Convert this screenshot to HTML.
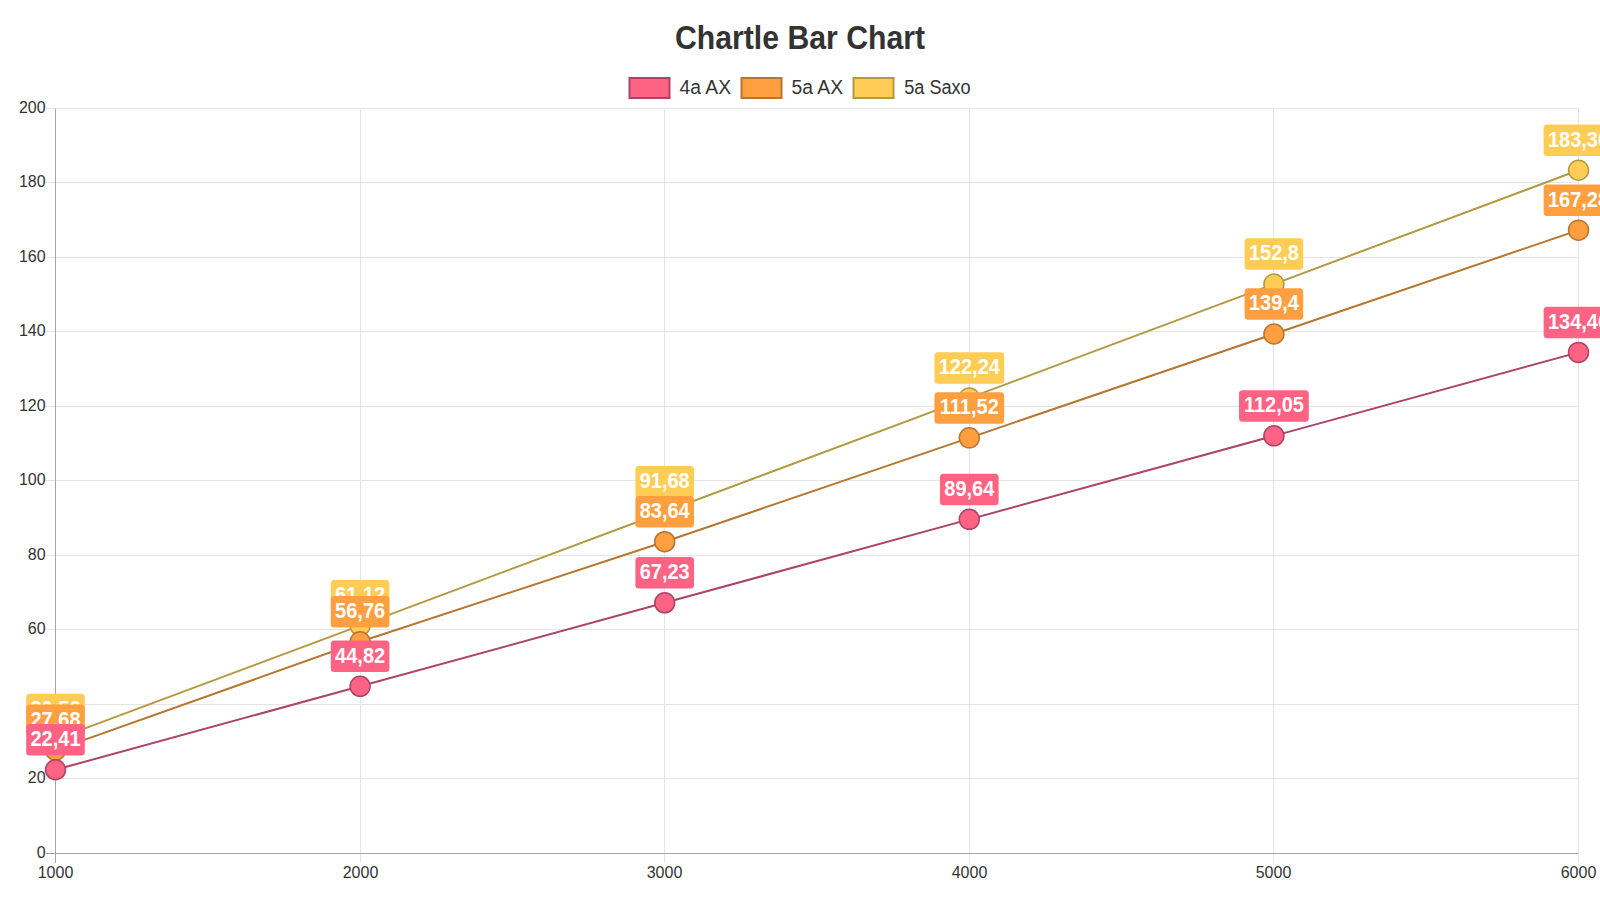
<!DOCTYPE html>
<html><head><meta charset="utf-8"><style>
html,body{margin:0;padding:0;background:#fff;width:1600px;height:900px;overflow:hidden;position:relative}
</style></head><body>
<svg width="1600" height="900" viewBox="0 0 1600 900" style="position:absolute;left:0;top:0"><path d="M46 853.5H1578.5 M46 778.5H1578.5 M46 704.5H1578.5 M46 629.5H1578.5 M46 555.5H1578.5 M46 480.5H1578.5 M46 406.5H1578.5 M46 331.5H1578.5 M46 257.5H1578.5 M46 182.5H1578.5 M46 108.5H1578.5 M55.5 108.5V863 M360.5 108.5V863 M664.5 108.5V863 M969.5 108.5V863 M1273.5 108.5V863 M1578.5 108.5V863" stroke="#e5e5e5" stroke-width="1" fill="none"/><path d="M55.5 108.5V863M46 853.5H1578.5" stroke="#a6a6a6" stroke-width="1" fill="none"/><text x="45.6" y="857.9" text-anchor="end" font-family='"Liberation Sans", sans-serif' font-size="16" fill="#333">0</text><text x="45.6" y="782.9" text-anchor="end" font-family='"Liberation Sans", sans-serif' font-size="16" fill="#333">20</text><text x="45.6" y="708.9" text-anchor="end" font-family='"Liberation Sans", sans-serif' font-size="16" fill="#333">40</text><text x="45.6" y="633.9" text-anchor="end" font-family='"Liberation Sans", sans-serif' font-size="16" fill="#333">60</text><text x="45.6" y="559.9" text-anchor="end" font-family='"Liberation Sans", sans-serif' font-size="16" fill="#333">80</text><text x="45.6" y="484.9" text-anchor="end" font-family='"Liberation Sans", sans-serif' font-size="16" fill="#333">100</text><text x="45.6" y="410.9" text-anchor="end" font-family='"Liberation Sans", sans-serif' font-size="16" fill="#333">120</text><text x="45.6" y="335.9" text-anchor="end" font-family='"Liberation Sans", sans-serif' font-size="16" fill="#333">140</text><text x="45.6" y="261.9" text-anchor="end" font-family='"Liberation Sans", sans-serif' font-size="16" fill="#333">160</text><text x="45.6" y="186.9" text-anchor="end" font-family='"Liberation Sans", sans-serif' font-size="16" fill="#333">180</text><text x="45.6" y="112.9" text-anchor="end" font-family='"Liberation Sans", sans-serif' font-size="16" fill="#333">200</text><text x="55.5" y="878.4" text-anchor="middle" font-family='"Liberation Sans", sans-serif' font-size="16" fill="#333">1000</text><text x="360.5" y="878.4" text-anchor="middle" font-family='"Liberation Sans", sans-serif' font-size="16" fill="#333">2000</text><text x="664.5" y="878.4" text-anchor="middle" font-family='"Liberation Sans", sans-serif' font-size="16" fill="#333">3000</text><text x="969.5" y="878.4" text-anchor="middle" font-family='"Liberation Sans", sans-serif' font-size="16" fill="#333">4000</text><text x="1273.5" y="878.4" text-anchor="middle" font-family='"Liberation Sans", sans-serif' font-size="16" fill="#333">5000</text><text x="1578.5" y="878.4" text-anchor="middle" font-family='"Liberation Sans", sans-serif' font-size="16" fill="#333">6000</text><polyline points="55.50,739.41 360.10,625.58 664.70,511.74 969.30,397.91 1273.90,284.07 1578.50,170.23" stroke="#b39a40" stroke-width="2" fill="none"/><circle cx="55.50" cy="739.41" r="10" fill="#ffcd56" stroke="#b39a40" stroke-width="1.5"/><circle cx="360.10" cy="625.58" r="10" fill="#ffcd56" stroke="#b39a40" stroke-width="1.5"/><circle cx="664.70" cy="511.74" r="10" fill="#ffcd56" stroke="#b39a40" stroke-width="1.5"/><circle cx="969.30" cy="397.91" r="10" fill="#ffcd56" stroke="#b39a40" stroke-width="1.5"/><circle cx="1273.90" cy="284.07" r="10" fill="#ffcd56" stroke="#b39a40" stroke-width="1.5"/><circle cx="1578.50" cy="170.23" r="10" fill="#ffcd56" stroke="#b39a40" stroke-width="1.5"/><polyline points="55.50,750.14 360.10,641.82 664.70,541.69 969.30,437.84 1273.90,333.99 1578.50,230.13" stroke="#b6762f" stroke-width="2" fill="none"/><circle cx="55.50" cy="750.14" r="10" fill="#ff9f40" stroke="#b6762f" stroke-width="1.5"/><circle cx="360.10" cy="641.82" r="10" fill="#ff9f40" stroke="#b6762f" stroke-width="1.5"/><circle cx="664.70" cy="541.69" r="10" fill="#ff9f40" stroke="#b6762f" stroke-width="1.5"/><circle cx="969.30" cy="437.84" r="10" fill="#ff9f40" stroke="#b6762f" stroke-width="1.5"/><circle cx="1273.90" cy="333.99" r="10" fill="#ff9f40" stroke="#b6762f" stroke-width="1.5"/><circle cx="1578.50" cy="230.13" r="10" fill="#ff9f40" stroke="#b6762f" stroke-width="1.5"/><polyline points="55.50,769.77 360.10,686.30 664.70,602.82 969.30,519.34 1273.90,435.86 1578.50,352.39" stroke="#ac4466" stroke-width="2" fill="none"/><circle cx="55.50" cy="769.77" r="10" fill="#ff6384" stroke="#ac4466" stroke-width="1.5"/><circle cx="360.10" cy="686.30" r="10" fill="#ff6384" stroke="#ac4466" stroke-width="1.5"/><circle cx="664.70" cy="602.82" r="10" fill="#ff6384" stroke="#ac4466" stroke-width="1.5"/><circle cx="969.30" cy="519.34" r="10" fill="#ff6384" stroke="#ac4466" stroke-width="1.5"/><circle cx="1273.90" cy="435.86" r="10" fill="#ff6384" stroke="#ac4466" stroke-width="1.5"/><circle cx="1578.50" cy="352.39" r="10" fill="#ff6384" stroke="#ac4466" stroke-width="1.5"/><rect x="26.18" y="693.71" width="58.64" height="31.5" rx="3.5" fill="#ffcd56"/><text transform="translate(55.50 715.81) scale(1 1.09)" text-anchor="middle" font-family='"Liberation Sans", sans-serif' font-size="20" font-weight="bold" fill="#fff">30,56</text><rect x="330.78" y="579.88" width="58.64" height="31.5" rx="3.5" fill="#ffcd56"/><text transform="translate(360.10 601.98) scale(1 1.09)" text-anchor="middle" font-family='"Liberation Sans", sans-serif' font-size="20" font-weight="bold" fill="#fff">61,12</text><rect x="635.38" y="466.04" width="58.64" height="31.5" rx="3.5" fill="#ffcd56"/><text transform="translate(664.70 488.14) scale(1 1.09)" text-anchor="middle" font-family='"Liberation Sans", sans-serif' font-size="20" font-weight="bold" fill="#fff">91,68</text><rect x="934.42" y="352.21" width="69.76" height="31.5" rx="3.5" fill="#ffcd56"/><text transform="translate(969.30 374.31) scale(1 1.09)" text-anchor="middle" font-family='"Liberation Sans", sans-serif' font-size="20" font-weight="bold" fill="#fff">122,24</text><rect x="1244.58" y="238.37" width="58.64" height="31.5" rx="3.5" fill="#ffcd56"/><text transform="translate(1273.90 260.47) scale(1 1.09)" text-anchor="middle" font-family='"Liberation Sans", sans-serif' font-size="20" font-weight="bold" fill="#fff">152,8</text><rect x="1543.62" y="124.53" width="69.76" height="31.5" rx="3.5" fill="#ffcd56"/><text transform="translate(1578.50 146.63) scale(1 1.09)" text-anchor="middle" font-family='"Liberation Sans", sans-serif' font-size="20" font-weight="bold" fill="#fff">183,36</text><rect x="26.18" y="704.44" width="58.64" height="31.5" rx="3.5" fill="#ff9f40"/><text transform="translate(55.50 726.54) scale(1 1.09)" text-anchor="middle" font-family='"Liberation Sans", sans-serif' font-size="20" font-weight="bold" fill="#fff">27,68</text><rect x="330.78" y="596.12" width="58.64" height="31.5" rx="3.5" fill="#ff9f40"/><text transform="translate(360.10 618.22) scale(1 1.09)" text-anchor="middle" font-family='"Liberation Sans", sans-serif' font-size="20" font-weight="bold" fill="#fff">56,76</text><rect x="635.38" y="495.99" width="58.64" height="31.5" rx="3.5" fill="#ff9f40"/><text transform="translate(664.70 518.09) scale(1 1.09)" text-anchor="middle" font-family='"Liberation Sans", sans-serif' font-size="20" font-weight="bold" fill="#fff">83,64</text><rect x="934.42" y="392.14" width="69.76" height="31.5" rx="3.5" fill="#ff9f40"/><text transform="translate(969.30 414.24) scale(1 1.09)" text-anchor="middle" font-family='"Liberation Sans", sans-serif' font-size="20" font-weight="bold" fill="#fff">111,52</text><rect x="1244.58" y="288.29" width="58.64" height="31.5" rx="3.5" fill="#ff9f40"/><text transform="translate(1273.90 310.38) scale(1 1.09)" text-anchor="middle" font-family='"Liberation Sans", sans-serif' font-size="20" font-weight="bold" fill="#fff">139,4</text><rect x="1543.62" y="184.43" width="69.76" height="31.5" rx="3.5" fill="#ff9f40"/><text transform="translate(1578.50 206.53) scale(1 1.09)" text-anchor="middle" font-family='"Liberation Sans", sans-serif' font-size="20" font-weight="bold" fill="#fff">167,28</text><rect x="26.18" y="724.07" width="58.64" height="31.5" rx="3.5" fill="#ff6384"/><text transform="translate(55.50 746.17) scale(1 1.09)" text-anchor="middle" font-family='"Liberation Sans", sans-serif' font-size="20" font-weight="bold" fill="#fff">22,41</text><rect x="330.78" y="640.60" width="58.64" height="31.5" rx="3.5" fill="#ff6384"/><text transform="translate(360.10 662.70) scale(1 1.09)" text-anchor="middle" font-family='"Liberation Sans", sans-serif' font-size="20" font-weight="bold" fill="#fff">44,82</text><rect x="635.38" y="557.12" width="58.64" height="31.5" rx="3.5" fill="#ff6384"/><text transform="translate(664.70 579.22) scale(1 1.09)" text-anchor="middle" font-family='"Liberation Sans", sans-serif' font-size="20" font-weight="bold" fill="#fff">67,23</text><rect x="939.98" y="473.64" width="58.64" height="31.5" rx="3.5" fill="#ff6384"/><text transform="translate(969.30 495.74) scale(1 1.09)" text-anchor="middle" font-family='"Liberation Sans", sans-serif' font-size="20" font-weight="bold" fill="#fff">89,64</text><rect x="1239.02" y="390.16" width="69.76" height="31.5" rx="3.5" fill="#ff6384"/><text transform="translate(1273.90 412.26) scale(1 1.09)" text-anchor="middle" font-family='"Liberation Sans", sans-serif' font-size="20" font-weight="bold" fill="#fff">112,05</text><rect x="1543.62" y="306.69" width="69.76" height="31.5" rx="3.5" fill="#ff6384"/><text transform="translate(1578.50 328.79) scale(1 1.09)" text-anchor="middle" font-family='"Liberation Sans", sans-serif' font-size="20" font-weight="bold" fill="#fff">134,46</text><text x="800" y="48.5" text-anchor="middle" font-family='"Liberation Sans", sans-serif' font-size="33" font-weight="bold" fill="#333" textLength="250" lengthAdjust="spacingAndGlyphs">Chartle Bar Chart</text><rect x="629.50" y="78" width="40" height="20" fill="#ff6384" stroke="#ac4466" stroke-width="2"/><text x="679.6" y="93.9" font-family='"Liberation Sans", sans-serif' font-size="19.6" fill="#333" textLength="51.5" lengthAdjust="spacingAndGlyphs">4a AX</text><rect x="741.50" y="78" width="40" height="20" fill="#ff9f40" stroke="#b6762f" stroke-width="2"/><text x="791.6" y="93.9" font-family='"Liberation Sans", sans-serif' font-size="19.6" fill="#333" textLength="51.5" lengthAdjust="spacingAndGlyphs">5a AX</text><rect x="853.50" y="78" width="40" height="20" fill="#ffcd56" stroke="#b39a40" stroke-width="2"/><text x="904.2" y="93.9" font-family='"Liberation Sans", sans-serif' font-size="19.6" fill="#333" textLength="66.5" lengthAdjust="spacingAndGlyphs">5a Saxo</text></svg>
</body></html>
